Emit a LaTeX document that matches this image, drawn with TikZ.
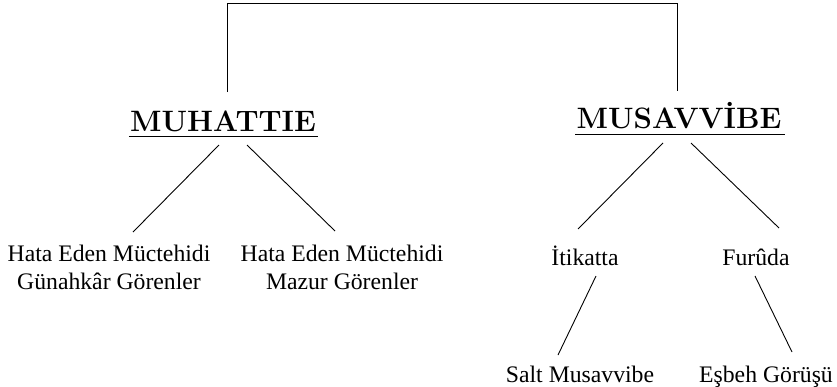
\documentclass[tikz,border=0pt]{standalone}
\usepackage{fontspec}
\newfontfamily\bodyfont{Liberation Serif}
\usetikzlibrary{calc}

\begin{document}
\begin{tikzpicture}[x=1pt, y=-1pt, line width=0.9pt,
		title/.style={inner sep=0pt, anchor=base, font=\fontsize{29.5}{34}\selectfont\bfseries},
		leaf/.style={inner sep=0pt, anchor=base, font=\fontsize{23.7}{28}\bodyfont},
		pair/.style={inner sep=0pt, anchor=north, align=center, font=\fontsize{23.7}{28}\bodyfont}]
		%%%%% START %%%%%
		
		\useasboundingbox (0, 0) rectangle (837, 386);
		
		\node[title] (muh) at (223, 131) {MUHATTIE};
		\node[title] (musav) at (679, 128) {MUSAVVİBE};
		
		\node[pair] (gun) at (109, 245) {Hata Eden Müctehidi\\Günahkâr Görenler};
		\node[pair] (maz) at (342, 245) {Hata Eden Müctehidi\\Mazur Görenler};
		
		\node[leaf] (itik) at (585, 265) {İtikatta};
		\node[leaf] (furu) at (756, 265) {Furûda};
		\node[leaf] (salt) at (580, 382) {Salt Musavvibe};
		\node[leaf] (esb) at (766, 382) {Eşbeh Görüşü};
		
		% underlines
		\draw ([xshift=-1pt, yshift=-5pt]muh.base west) -- ([xshift=2pt, yshift=-5pt]muh.base east);
		\draw ([xshift=-1pt, yshift=-6pt]musav.base west) -- ([xshift=3pt, yshift=-6pt]musav.base east);
		
		% top bracket
		\draw ([xshift=4pt, yshift=39pt]muh.base) |- ([xshift=-2pt, yshift=125pt]musav.base) -- ([xshift=-2pt, yshift=37pt]musav.base);
		
		\draw ([xshift=-4pt, yshift=-14pt]muh.base) -- ([xshift=24pt, yshift=13pt]gun.north);
		\draw ([xshift=24pt, yshift=-14pt]muh.base) -- ([xshift=-7pt, yshift=14pt]maz.north);
		
		\draw ([xshift=-16pt, yshift=-15pt]musav.base) -- ([xshift=-7pt, yshift=36pt]itik.base);
		\draw ([xshift=12pt, yshift=-15pt]musav.base) -- ([xshift=23pt, yshift=37pt]furu.base);
		
		\draw ([xshift=11pt, yshift=-11pt]itik.base) -- ([xshift=-22pt, yshift=27pt]salt.base);
		\draw ([xshift=-1pt, yshift=-11pt]furu.base) -- ([xshift=26pt, yshift=30pt]esb.base);
		
		%%%%% END %%%%%
\end{tikzpicture}
\end{document}
